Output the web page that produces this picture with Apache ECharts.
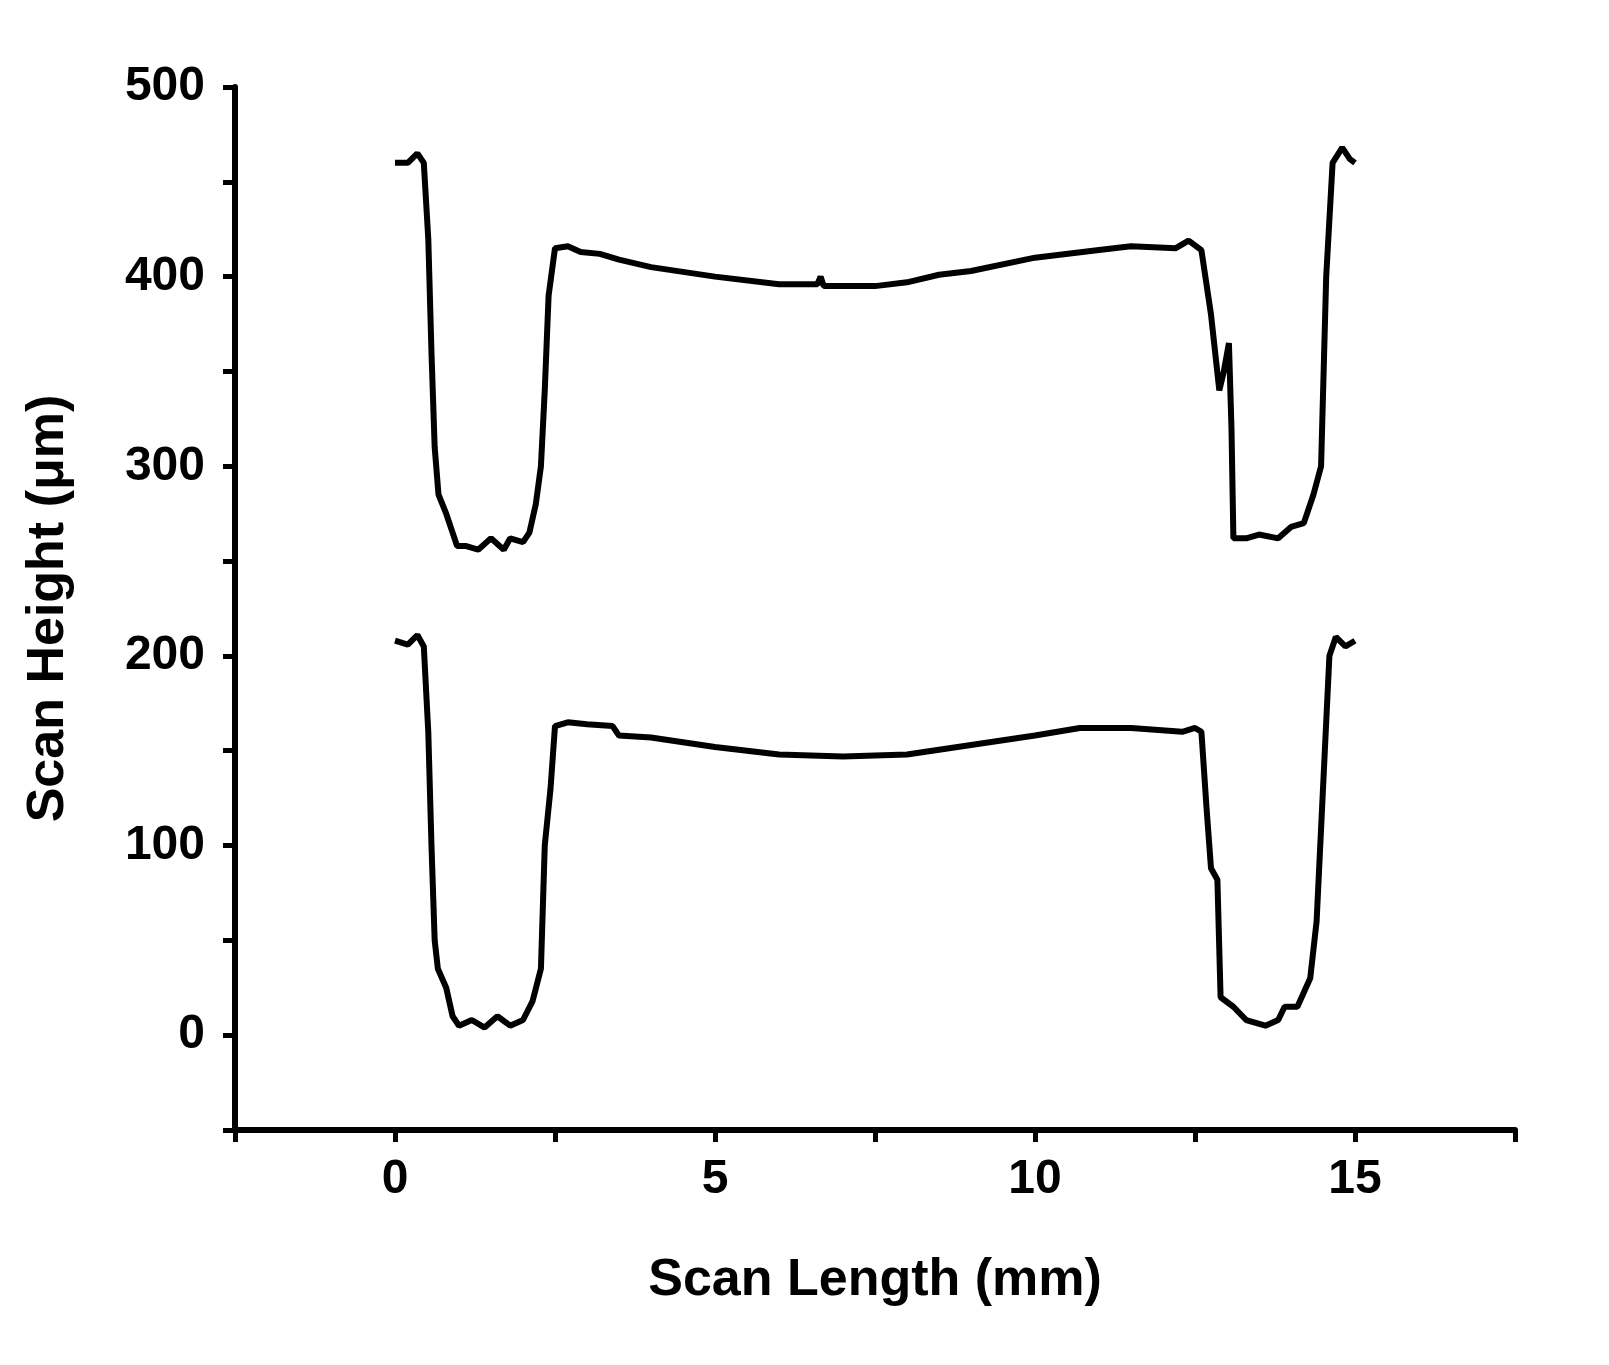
<!DOCTYPE html>
<html><head><meta charset="utf-8">
<script src="https://cdn.jsdelivr.net/npm/echarts@6/dist/echarts.min.js"></script>
<style>html,body{margin:0;background:#fff}#c{width:1609px;height:1365px}</style>
</head><body><div id="c"></div>
<script>
// profile A: [scan length mm, height um]
var profileA = [[0,460],[0.2,460],[0.35,465],[0.45,460],[0.52,420],[0.57,360],[0.62,310],[0.68,285],[0.8,275],[0.9,265],[0.97,258],[1.1,258],[1.3,256],[1.5,262],[1.7,256],[1.8,262],[2.0,260],[2.1,265],[2.2,280],[2.28,300],[2.34,340],[2.4,390],[2.5,415],[2.7,416],[2.9,413],[3.2,412],[3.5,409],[4,405],[5,400],[6,396],[6.6,396],[6.65,400],[6.7,395],[7.5,395],[8,397],[8.5,401],[9,403],[10,410],[11,414],[11.5,416],[12.2,415],[12.4,419],[12.6,414],[12.75,380],[12.88,340],[12.95,350],[13.03,365],[13.07,320],[13.1,262],[13.3,262],[13.5,264],[13.8,262],[14.0,268],[14.2,270],[14.35,285],[14.47,300],[14.55,400],[14.65,460],[14.8,468],[14.92,462],[15.0,460]];
var profileB = [[0,208],[0.2,206],[0.35,211],[0.45,205],[0.52,160],[0.57,100],[0.62,50],[0.67,35],[0.8,25],[0.9,10],[1.0,5],[1.2,8],[1.4,4],[1.6,10],[1.8,5],[2.0,8],[2.15,18],[2.28,35],[2.34,100],[2.43,130],[2.5,163],[2.7,165],[3.0,164],[3.4,163],[3.5,158],[4,157],[5,152],[6,148],[7,147],[8,148],[9,153],[10,158],[10.7,162],[11.5,162],[12.3,160],[12.5,162],[12.6,160],[12.68,120],[12.75,88],[12.85,82],[12.9,20],[13.1,15],[13.3,8],[13.6,5],[13.8,8],[13.9,15],[14.1,15],[14.3,30],[14.4,60],[14.5,130],[14.6,200],[14.7,210],[14.85,205],[15.0,208]];
var yTicks = [0,100,200,300,400,500];
var xTicks = [0,5,10,15];
var notes = [{t:'(A)',x:-0.9,y:460},{t:'(B)',x:-0.9,y:208},{t:'5',x:7.3,y:440},{t:'3',x:1.42,y:312},{t:'3',x:13.74,y:313}];

var font = 'Liberation Sans';
var chart = echarts.init(document.getElementById('c'));
chart.setOption({
  animation:false,
  grid:{left:235,right:94,top:87,bottom:235},
  xAxis:{type:'value',min:-2.5,max:17.5,interval:2.5,
    name:'Scan Length (mm)',nameLocation:'middle',nameGap:125,
    nameTextStyle:{fontFamily:font,fontWeight:'bold',fontSize:52,color:'#000'},
    axisLine:{onZero:false,lineStyle:{color:'#000',width:6}},
    axisTick:{length:12,lineStyle:{width:5,color:'#000'}},
    splitLine:{show:false},
    axisLabel:{margin:26,fontFamily:font,fontWeight:'bold',fontSize:48,color:'#000',
      formatter:function(v){return xTicks.indexOf(v)>=0?String(v):'';}}},
  yAxis:{type:'value',min:-50,max:500,interval:50,
    name:'Scan Height (μm)',nameLocation:'middle',nameGap:160,
    nameTextStyle:{fontFamily:font,fontWeight:'bold',fontSize:52,color:'#000'},
    axisLine:{onZero:false,lineStyle:{color:'#000',width:6}},
    axisTick:{length:12,lineStyle:{width:5,color:'#000'}},
    splitLine:{show:false},
    axisLabel:{margin:30,fontFamily:font,fontWeight:'bold',fontSize:48,color:'#000',
      formatter:function(v){return yTicks.indexOf(v)>=0?String(v):'';}}},
  series:[
    {type:'line',data:profileA,showSymbol:false,lineStyle:{color:'#000',width:6}},
    {type:'line',data:profileB,showSymbol:false,lineStyle:{color:'#000',width:6}},
    {type:'scatter',symbolSize:1,itemStyle:{opacity:0},data:notes.map(function(n){return {value:[n.x,n.y],name:n.t};}),
      label:{show:true,position:'top',distance:-24,formatter:'{b}',fontFamily:font,fontWeight:'bold',fontSize:46,color:'#000',textBorderWidth:0}}
  ]
});
</script></body></html>
